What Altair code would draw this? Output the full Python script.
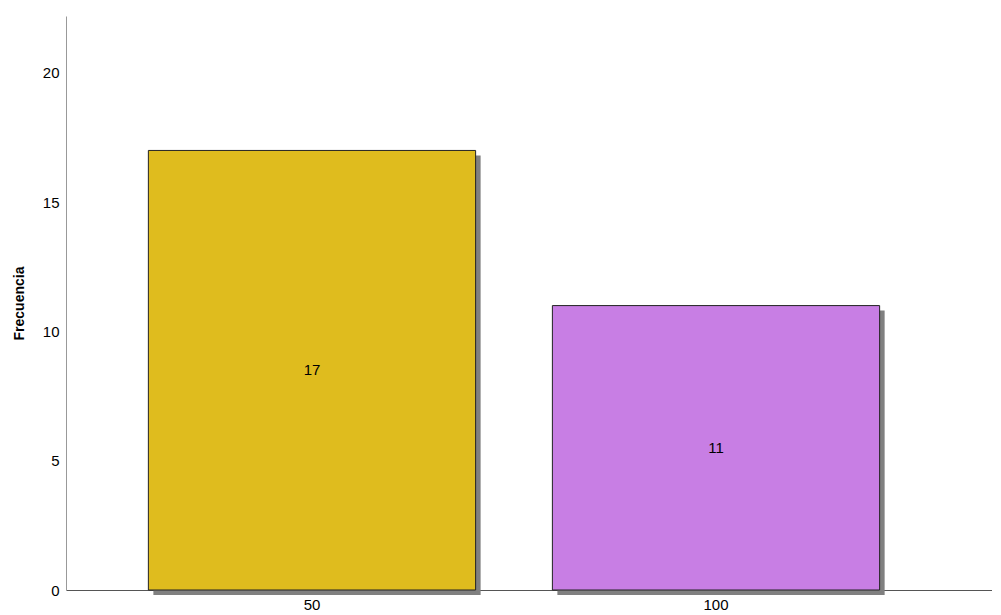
import altair as alt
import pandas as pd

categories = ["50", "100"]
counts = [17, 11]
colors = ["#DFBC1E", "#C87EE4"]

df = pd.DataFrame({"cat": categories, "n": counts, "color": colors})
df["half"] = df["n"] / 2

FONT = "Liberation Sans"

x_enc = alt.X("cat:N", sort=categories,
              scale=alt.Scale(paddingInner=0.19, paddingOuter=0.241, align=0.423),
              axis=alt.Axis(title=None, labelAngle=0, ticks=False, labelFontSize=15,
                            labelFont=FONT, labelColor="#000",
                            labelPadding=7, domainColor="#555", domainWidth=1))
y_scale = alt.Scale(domain=[0, 22.2], nice=False, zero=True)

base = alt.Chart(df)

shadow = base.mark_bar(color="#808080", xOffset=5, yOffset=5, y2Offset=5).encode(
    x=x_enc,
    y=alt.Y("n:Q", scale=y_scale,
            axis=alt.Axis(title="Frecuencia", values=[0, 5, 10, 15, 20], ticks=False,
                          grid=False, labelFontSize=15, labelFont=FONT,
                          labelColor="#000", labelPadding=7, titleFont=FONT,
                          titleFontSize=14, titleFontWeight="bold", titleColor="#000",
                          titlePadding=16, domainColor="#999", domainWidth=1)),
)

bars = base.mark_bar(stroke="#222", strokeWidth=1).encode(
    x=x_enc,
    y=alt.Y("n:Q", scale=y_scale),
    color=alt.Color("color:N", scale=None),
)

labels = base.mark_text(fontSize=15, font=FONT, color="#000").encode(
    x=x_enc,
    y=alt.Y("half:Q", scale=y_scale),
    text=alt.Text("n:Q"),
)

chart = (shadow + bars + labels).properties(
    width=926, height=574,
    background="white",
    autosize=alt.AutoSizeParams(type="none"),
    padding={"left": 58, "top": 8, "right": 0, "bottom": 24},
).configure_view(strokeWidth=0, stroke=None)

chart.save("out.html", embed_options={"renderer": "svg", "actions": False})
